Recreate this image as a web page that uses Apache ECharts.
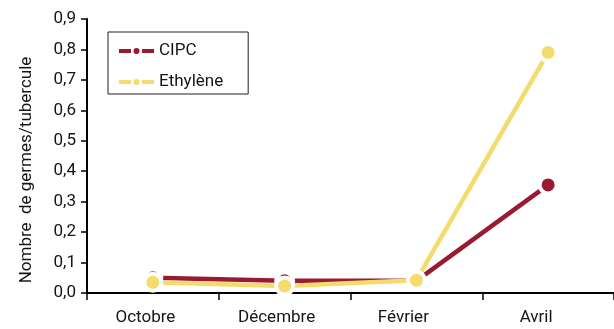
<!DOCTYPE html>
<html>
<head>
<meta charset="utf-8">
<script src="https://cdn.jsdelivr.net/npm/echarts@6/dist/echarts.min.js"></script>
<style>
  html, body { margin: 0; padding: 0; background: #fff; overflow: hidden; }
  #chart { width: 614px; height: 329px; }
</style>
</head>
<body>
<div id="chart"></div>
<script>
// Sprout counts per tuber through the storage season
const months = ['Octobre', 'Décembre', 'Février', 'Avril'];
const cipc = [0.05, 0.04, 0.04, 0.355];
const ethylene = [0.035, 0.023, 0.042, 0.79];
const yTicks = ['0,0', '0,1', '0,2', '0,3', '0,4', '0,5', '0,6', '0,7', '0,8', '0,9'];

const RED = '#981b32';
const YELLOW = '#f3dc6b';
const FONT = 'Roboto, "Noto Sans", sans-serif';
const INK = '#151515';

// dash - dot - dash legend key
const LEGEND_KEY = 'path://M0 1h12v4h-12z M23 1h12v4h-12z M14.5 3a3 3 0 1 0 6 0a3 3 0 1 0 -6 0z';

// month labels sit slightly left of their category centre
const labelShift = [15, 16, 26, 24];
const labelRich = {};
months.forEach(function (m, i) {
  labelRich['m' + i] = {
    fontSize: 17, fontFamily: FONT, color: INK,
    padding: [0, labelShift[i], 0, 0]
  };
});

function lineSeries(name, data, color, z) {
  return {
    name: name,
    type: 'line',
    data: data,
    z: z,
    symbol: 'circle',
    symbolSize: 17,
    showSymbol: true,
    lineStyle: { color: color, width: 4.5 },
    itemStyle: { color: color, borderColor: '#fff', borderWidth: 4 },
    emphasis: { disabled: true },
    animation: false
  };
}

const chart = echarts.init(document.getElementById('chart'), null, { renderer: 'canvas' });
chart.setOption({
  backgroundColor: '#fff',
  textStyle: { fontFamily: FONT },
  // the plot runs past the right edge of the canvas
  grid: { left: 87, width: 536, top: 19, bottom: 36 },
  legend: {
    left: 108,
    top: 32,
    orient: 'vertical',
    itemGap: 11,
    itemWidth: 35,
    itemHeight: 6,
    padding: [9, 25, 2, 11],
    borderColor: '#222',
    borderWidth: 1,
    textStyle: { fontFamily: FONT, fontSize: 17, lineHeight: 20, color: INK },
    data: [
      { name: 'CIPC', icon: LEGEND_KEY, itemStyle: { color: RED, borderWidth: 0 } },
      { name: 'Ethylène', icon: LEGEND_KEY, itemStyle: { color: YELLOW, borderWidth: 0 } }
    ]
  },
  xAxis: {
    type: 'category',
    data: months,
    boundaryGap: true,
    axisLine: { lineStyle: { color: '#000', width: 2 } },
    axisTick: { show: true, length: 7, lineStyle: { color: '#000', width: 1.5 } },
    axisLabel: {
      margin: 16,
      formatter: function (v, i) { return '{m' + i + '|' + v + '}'; },
      rich: labelRich
    },
    splitLine: { show: false }
  },
  yAxis: {
    type: 'value',
    min: 0,
    max: 0.9,
    interval: 0.1,
    name: 'Nombre  de germes/tubercule',
    nameLocation: 'middle',
    nameGap: 52,
    nameRotate: 90,
    nameTextStyle: { color: INK, fontSize: 17, fontFamily: FONT, padding: [0, 28, 0, 0] },
    axisLine: { show: true, lineStyle: { color: '#000', width: 2 } },
    axisTick: { show: true, length: 6, lineStyle: { color: '#000', width: 1.5 } },
    axisLabel: {
      color: INK, fontSize: 17, fontFamily: FONT, margin: 11,
      formatter: function (v) { return yTicks[Math.round(v * 10)]; }
    },
    splitLine: { show: false }
  },
  series: [
    lineSeries('CIPC', cipc, RED, 2),
    lineSeries('Ethylène', ethylene, YELLOW, 3)
  ]
});
</script>
</body>
</html>
